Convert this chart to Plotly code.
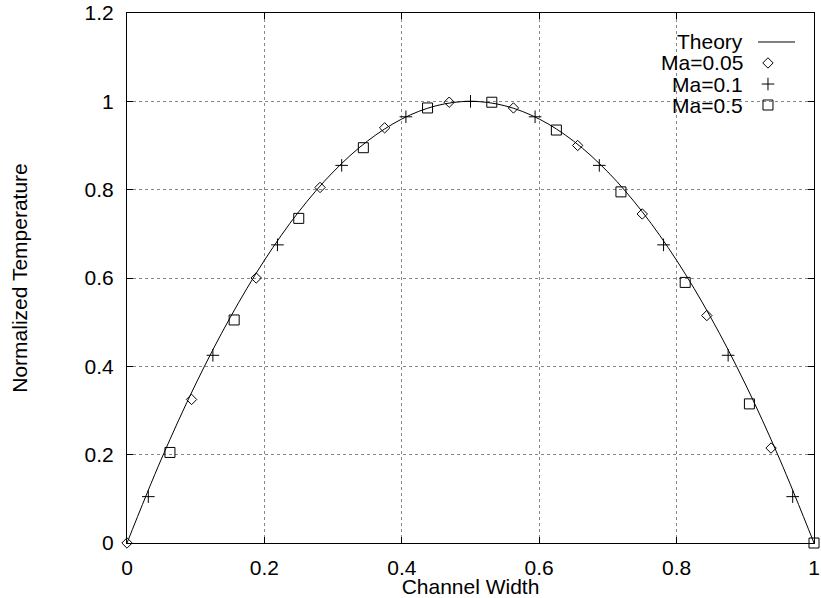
import plotly.graph_objects as go

theory_x = [0, 0.05, 0.1, 0.15, 0.2, 0.25, 0.3, 0.35, 0.4, 0.45, 0.5,
            0.55, 0.6, 0.65, 0.7, 0.75, 0.8, 0.85, 0.9, 0.95, 1.0]
theory_y = [0, 0.19, 0.36, 0.51, 0.64, 0.75, 0.84, 0.91, 0.96, 0.99, 1.0,
            0.99, 0.96, 0.91, 0.84, 0.75, 0.64, 0.51, 0.36, 0.19, 0]

ma005_x = [0, 0.094, 0.188, 0.281, 0.375, 0.469, 0.5625, 0.656, 0.75, 0.844, 0.9375]
ma005_y = [0, 0.325, 0.60, 0.805, 0.94, 0.998, 0.985, 0.90, 0.745, 0.515, 0.215]

ma01_x = [0.031, 0.125, 0.219, 0.3125, 0.406, 0.5, 0.594, 0.6875, 0.781, 0.875, 0.969]
ma01_y = [0.105, 0.425, 0.675, 0.855, 0.965, 1.0, 0.965, 0.855, 0.675, 0.425, 0.105]

ma05_x = [0.0625, 0.156, 0.25, 0.344, 0.4375, 0.531, 0.625, 0.719, 0.8125, 0.906, 1.0]
ma05_y = [0.205, 0.505, 0.735, 0.895, 0.985, 0.998, 0.935, 0.795, 0.59, 0.315, 0]

series_names = ["Theory", "Ma=0.05", "Ma=0.1", "Ma=0.5"]

x_ticks = [0, 0.2, 0.4, 0.6, 0.8, 1]
x_labels = ["0", "0.2", "0.4", "0.6", "0.8", "1"]
y_ticks = [0, 0.2, 0.4, 0.6, 0.8, 1, 1.2]
y_labels = ["0", "0.2", "0.4", "0.6", "0.8", "1", "1.2"]

FONT = "Liberation Sans, Arial, sans-serif"
FS = 21

markers = {
    "Ma=0.05": dict(symbol="diamond-open", size=8, color="black", line=dict(width=1, color="black")),
    "Ma=0.1": dict(symbol="cross-thin-open", size=9, color="black", line=dict(width=1, color="black")),
    "Ma=0.5": dict(symbol="square-open", size=10, color="black", line=dict(width=1, color="black")),
}

fig = go.Figure()
fig.add_trace(go.Scatter(x=theory_x, y=theory_y, mode="lines", name=series_names[0],
                         line=dict(color="black", width=1, shape="spline"),
                         cliponaxis=False, showlegend=False))
for name, xs, ys in [("Ma=0.05", ma005_x, ma005_y), ("Ma=0.1", ma01_x, ma01_y),
                     ("Ma=0.5", ma05_x, ma05_y)]:
    fig.add_trace(go.Scatter(x=xs, y=ys, mode="markers", name=name, marker=markers[name],
                             cliponaxis=False, showlegend=False))

# gnuplot-style key (text right-aligned, sample to the right), in plot-fraction coords
key_text_x = 0.9
key_rows = [0.9453, 0.9057, 0.866, 0.8264]
key_line = (0.9185, 0.9723)
key_mark_x = 0.933

for name, ky in zip(series_names, key_rows):
    fig.add_annotation(x=key_text_x, y=ky, xref="paper", yref="paper", text=name,
                       showarrow=False, xanchor="right", yanchor="middle",
                       font=dict(size=FS, family=FONT, color="black"))
fig.add_shape(type="line", xref="paper", yref="paper", x0=key_line[0], x1=key_line[1],
              y0=key_rows[0], y1=key_rows[0], line=dict(color="black", width=1))
for name, ky in zip(series_names[1:], key_rows[1:]):
    fig.add_trace(go.Scatter(x=[key_mark_x], y=[ky], mode="markers", marker=markers[name],
                             xaxis="x2", yaxis="y2", showlegend=False, hoverinfo="skip",
                             cliponaxis=False))

axis_common = dict(showline=True, linecolor="black", linewidth=1, mirror="allticks",
                   ticks="inside", ticklen=6, tickcolor="black", automargin=False,
                   showgrid=True, gridcolor="#888888", griddash="dot", gridwidth=1,
                   zeroline=False, tickfont=dict(size=FS, color="black", family=FONT))

fig.update_layout(
    width=821, height=598,
    margin=dict(l=127, r=7, t=13, b=55),
    paper_bgcolor="white", plot_bgcolor="white",
    font=dict(family=FONT, size=FS, color="black"),
    showlegend=False,
    xaxis=dict(range=[0, 1], tickvals=x_ticks, ticktext=x_labels,
               title=dict(text="Channel Width", font=dict(size=FS, color="black", family=FONT),
                          standoff=0),
               ticklabelstandoff=6, **axis_common),
    yaxis=dict(range=[0, 1.2], tickvals=y_ticks, ticktext=y_labels,
               title=dict(text="Normalized Temperature", font=dict(size=FS, color="black", family=FONT),
                          standoff=51),
               ticklabelstandoff=8, **axis_common),
    xaxis2=dict(range=[0, 1], overlaying="x", visible=False, fixedrange=True),
    yaxis2=dict(range=[0, 1], overlaying="y", visible=False, fixedrange=True),
)

fig.write_html("out.html", config={"displayModeBar": False},
               post_script="document.body.style.margin='0';document.body.style.overflow='hidden';")
